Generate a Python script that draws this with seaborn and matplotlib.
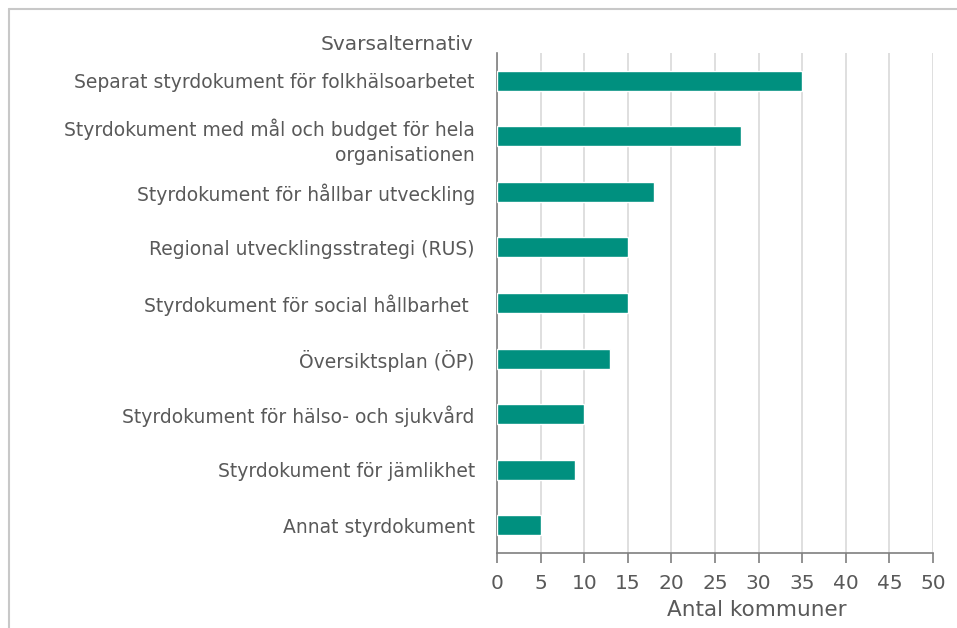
import matplotlib
matplotlib.use("Agg")
import pandas as pd
import seaborn as sns
import matplotlib.pyplot as plt
from matplotlib.lines import Line2D

# data
svarsalternativ = [
    "Separat styrdokument för folkhälsoarbetet",
    "Styrdokument med mål och budget för hela\norganisationen",
    "Styrdokument för hållbar utveckling",
    "Regional utvecklingsstrategi (RUS)",
    "Styrdokument för social hållbarhet ",
    "Översiktsplan (ÖP)",
    "Styrdokument för hälso- och sjukvård",
    "Styrdokument för jämlikhet",
    "Annat styrdokument",
]
antal_kommuner = [35, 28, 18, 15, 15, 13, 10, 9, 5]
x_ticks = [0, 5, 10, 15, 20, 25, 30, 35, 40, 45, 50]

df = pd.DataFrame({"svar": svarsalternativ, "antal": antal_kommuner})

sns.set_theme(style="white")
plt.rcParams["font.family"] = ["DejaVu Sans"]

W, H = 957, 628
fig = plt.figure(figsize=(W / 100, H / 100), dpi=100)
ax = fig.add_axes([497 / W, 1 - 553 / H, (933 - 497) / W, (553 - 53) / H])

sns.barplot(data=df, x="antal", y="svar", color="#00907F", width=0.36,
            saturation=1, ax=ax, zorder=3)

txt = "#595959"
ax.set_xlim(0, 50)
ax.set_xticks(x_ticks)
ax.set_ylim(8.5, -0.5)
ax.grid(axis="x", color="#D9D9D9", linewidth=1.2, zorder=0)
ax.set_axisbelow(True)

for s in ["top", "right"]:
    ax.spines[s].set_visible(False)
for s in ["left", "bottom"]:
    ax.spines[s].set_color("#7F7F7F")
    ax.spines[s].set_linewidth(1.2)

ax.tick_params(axis="x", length=7.2, width=1.2, color="#7F7F7F", labelsize=14.5,
               labelcolor=txt, pad=8, direction="out", bottom=True)
ax.tick_params(axis="y", length=0, labelsize=13.5, labelcolor=txt, pad=16)
for lbl in ax.get_yticklabels():
    lbl.set_linespacing(1.4)

ax.set_xlabel("Antal kommuner", fontsize=15.5, color=txt)
ax.xaxis.set_label_coords((757 - 497) / 436, -0.094)
ax.set_ylabel("Svarsalternativ", fontsize=14.5, color=txt, rotation=0,
              ha="right", va="center")
ax.yaxis.set_label_coords(-0.055, 1.016)

# ramen runt diagrammet
fig.add_artist(Line2D([9 / W, 9 / W], [0, 1 - 9 / H], color="#C8C8C8", lw=1.5))
fig.add_artist(Line2D([9 / W, 1], [1 - 9 / H, 1 - 9 / H], color="#C8C8C8", lw=1.5))

fig.savefig("out.png", dpi=100, facecolor="white")
